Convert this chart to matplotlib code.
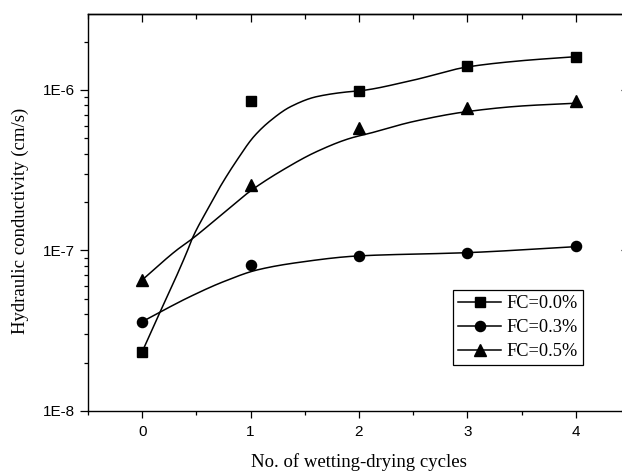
import numpy as np
import matplotlib
matplotlib.use("Agg")
import matplotlib.pyplot as plt
from matplotlib.lines import Line2D
from matplotlib.ticker import FixedLocator, FuncFormatter, LogLocator, NullFormatter

# ---- measured data points ----
cycles = [0, 1, 2, 3, 4]
fc00 = [2.34e-8, 8.5e-7, 9.8e-7, 1.40e-6, 1.61e-6]
fc03 = [3.60e-8, 8.1e-8, 9.25e-8, 9.7e-8, 1.06e-7]
fc05 = [6.5e-8, 2.56e-7, 5.8e-7, 7.7e-7, 8.5e-7]
labels = ["FC=0.0%", "FC=0.3%", "FC=0.5%"]

# ---- fitted curves (x, value) ----
fit00_x = [0, 0.09, 0.42, 0.46, 0.6, 0.72, 0.875, 1.03, 1.18, 1.37, 1.61, 1.92, 2.0, 2.5, 3.0, 3.5, 4.0]
fit00_y = [2.34e-8, 3.2e-8, 1.007e-7, 1.18e-7, 1.79e-7, 2.5e-7, 3.66e-7, 5.12e-7, 6.41e-7,
           7.87e-7, 9.08e-7, 9.76e-7, 9.86e-7, 1.15e-6, 1.39e-6, 1.52e-6, 1.61e-6]
fit03_x = [0, 0.17, 0.44, 0.75, 1.06, 1.43, 2.0, 3.0, 4.0]
fit03_y = [3.6e-8, 4.15e-8, 5.15e-8, 6.39e-8, 7.56e-8, 8.4e-8, 9.25e-8, 9.69e-8, 1.056e-7]
fit05_x = [0, 0.32, 0.46, 0.75, 1.0, 1.3, 1.61, 1.92, 2.1, 2.5, 3.0, 3.5, 4.0]
fit05_y = [6.55e-8, 1.007e-7, 1.18e-7, 1.71e-7, 2.35e-7, 3.18e-7, 4.13e-7, 5.0e-7,
           5.37e-7, 6.35e-7, 7.33e-7, 7.94e-7, 8.26e-7]


def pchip(x, y, xn):
    x = np.asarray(x, float); y = np.asarray(y, float)
    h = np.diff(x); d = np.diff(y) / h
    m = np.zeros_like(y)
    for k in range(1, len(x) - 1):
        if d[k - 1] * d[k] > 0:
            w1 = 2 * h[k] + h[k - 1]; w2 = h[k] + 2 * h[k - 1]
            m[k] = (w1 + w2) / (w1 / d[k - 1] + w2 / d[k])
    m[0] = d[0]; m[-1] = d[-1]
    idx = np.clip(np.searchsorted(x, xn) - 1, 0, len(x) - 2)
    t = (xn - x[idx]) / h[idx]
    h00 = 2 * t**3 - 3 * t**2 + 1; h10 = t**3 - 2 * t**2 + t
    h01 = -2 * t**3 + 3 * t**2; h11 = t**3 - t**2
    return h00 * y[idx] + h10 * h[idx] * m[idx] + h01 * y[idx + 1] + h11 * h[idx] * m[idx + 1]


def smooth(xs, ys):
    xn = np.linspace(xs[0], xs[-1], 400)
    return xn, 10 ** pchip(xs, np.log10(ys), xn)


W, H = 622, 471
fig = plt.figure(figsize=(W / 100, H / 100), dpi=100)
left, right, bottom, top = 88, 630, 411, 14
ax = fig.add_axes([left / W, (H - bottom) / H, (right - left) / W, (bottom - top) / H])

serif = "Liberation Serif"
sans = "Liberation Sans"

lw = 1.1
for fx, fy in [(fit00_x, fit00_y), (fit03_x, fit03_y), (fit05_x, fit05_y)]:
    sx, sy = smooth(fx, fy)
    ax.plot(sx, sy, color="black", lw=lw, zorder=2)

ax.plot(cycles, fc00, ls="none", marker="s", ms=6.9, color="black", zorder=3)
ax.plot(cycles, fc03, ls="none", marker="o", ms=7.3, color="black", zorder=3)
ax.plot(cycles, fc05, ls="none", marker="^", ms=8.2, color="black", zorder=3)

ax.set_yscale("log")
ax.set_xlim(-0.5, 4.5)
ax.set_ylim(1e-8, 2.97e-6)

ax.xaxis.set_major_locator(FixedLocator([0, 1, 2, 3, 4]))
ax.xaxis.set_minor_locator(FixedLocator([-0.5, 0.5, 1.5, 2.5, 3.5]))
ax.yaxis.set_major_locator(LogLocator(base=10, numticks=10))
ax.yaxis.set_minor_locator(LogLocator(base=10, subs=np.arange(2, 10), numticks=20))
ax.yaxis.set_major_formatter(FuncFormatter(lambda v, p: "1E%d" % int(round(np.log10(v)))))
ax.yaxis.set_minor_formatter(NullFormatter())

for s in ax.spines.values():
    s.set_linewidth(1.0)

ax.tick_params(axis="x", which="major", direction="out", length=5, width=0.9, pad=5,
               labelsize=11, bottom=True, top=False)
ax.tick_params(axis="x", which="minor", direction="out", length=2.6, width=0.9,
               bottom=True, top=False)
ax.tick_params(axis="y", which="major", direction="out", length=5.8, width=0.9, pad=3.5,
               labelsize=11, left=True, right=False)
ax.tick_params(axis="y", which="minor", direction="out", length=3, width=0.9,
               left=True, right=False)
for lab in ax.get_xticklabels() + ax.get_yticklabels():
    lab.set_family(sans)

# top and right ticks point inward
secx = ax.secondary_xaxis("top")
secx.xaxis.set_major_locator(FixedLocator([0, 1, 2, 3, 4]))
secx.xaxis.set_minor_locator(FixedLocator([-0.5, 0.5, 1.5, 2.5, 3.5]))
secx.tick_params(axis="x", which="major", direction="in", length=5.4, width=0.9, labeltop=False)
secx.tick_params(axis="x", which="minor", direction="in", length=3.6, width=0.9, labeltop=False)
secx.spines["top"].set_linewidth(1.0)

secy = ax.secondary_yaxis("right")
secy.tick_params(axis="y", which="major", direction="in", length=6.5, width=0.9, labelright=False)
secy.tick_params(axis="y", which="minor", direction="in", length=3, width=0.9, labelright=False)

ax.set_xlabel("No. of wetting-drying cycles", family=serif, fontsize=13.5, labelpad=10)
ax.set_ylabel("Hydraulic conductivity (cm/s)", family=serif, fontsize=13.5)
ax.yaxis.set_label_coords(-0.108, 0.48)

handles = [
    Line2D([], [], color="black", lw=lw, marker="s", ms=6.9),
    Line2D([], [], color="black", lw=lw, marker="o", ms=7.3),
    Line2D([], [], color="black", lw=lw, marker="^", ms=8.2),
]
leg = ax.legend(handles, labels, loc="upper left",
                bbox_to_anchor=((453 - left) / (right - left), (bottom - 290) / (bottom - top)),
                prop={"family": serif, "size": 13.2}, frameon=True, fancybox=False,
                edgecolor="black", framealpha=1, borderpad=0.28, labelspacing=0.38,
                handlelength=2.35, handletextpad=0.3, borderaxespad=0)
leg.get_frame().set_linewidth(0.9)

fig.savefig("out.png", dpi=100)
